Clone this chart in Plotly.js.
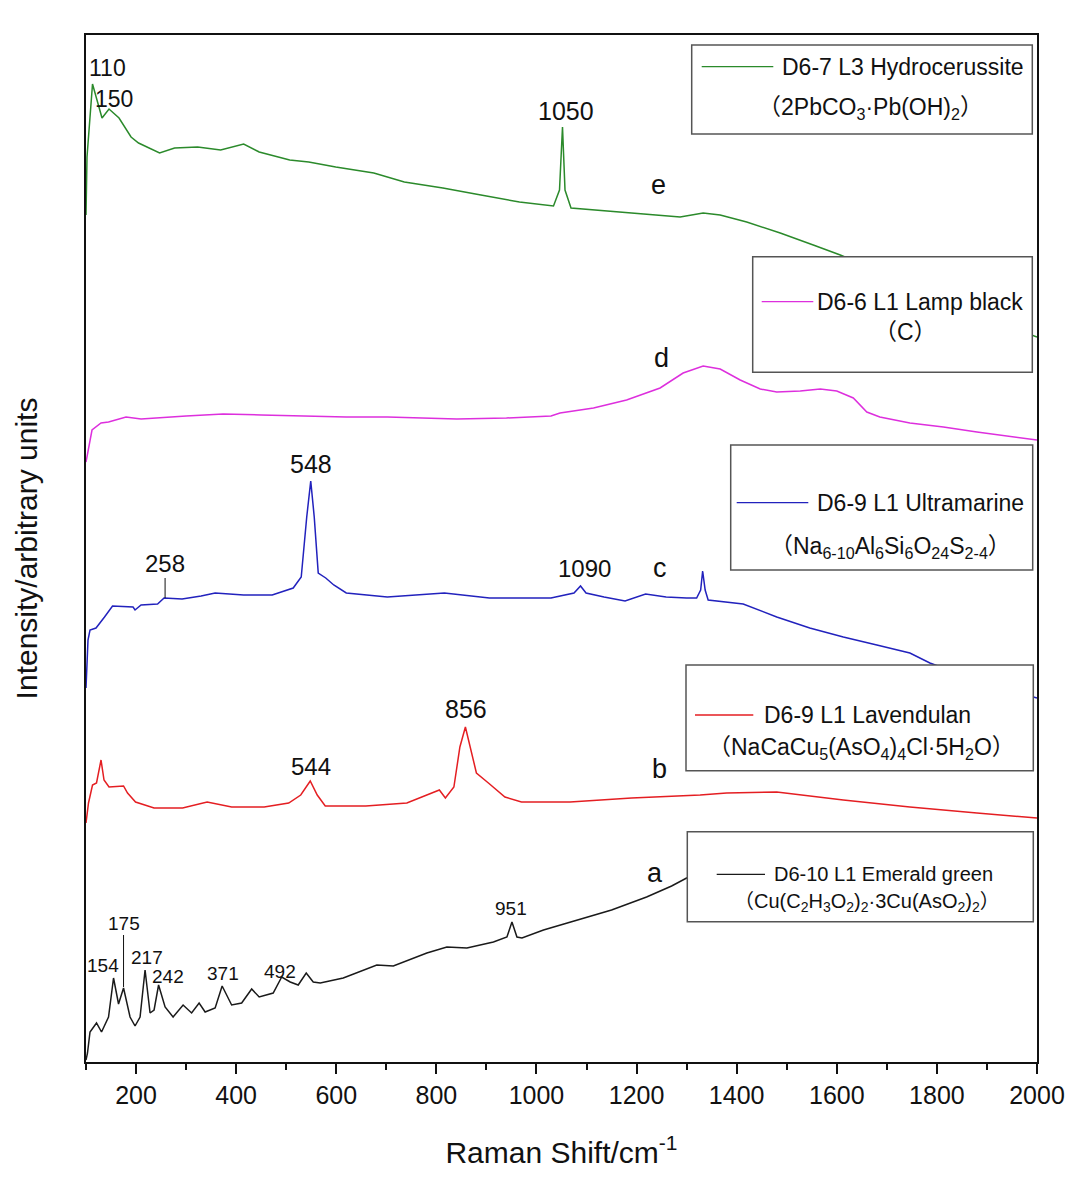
<!DOCTYPE html>
<html>
<head>
<meta charset="utf-8">
<script src="https://cdn.plot.ly/plotly-3.0.1.min.js"></script>
<style>
  body { margin: 0; background: #fff; }
  #chart { width: 1080px; height: 1191px; }
</style>
</head>
<body>
<div id="chart"></div>
<script>
// Raman shift (cm-1) and intensity (arbitrary units)
const shiftE = [100, 102, 113, 132, 146, 166, 190, 205, 247, 277, 323, 369, 415, 446, 507, 545, 599, 675, 736, 813, 889, 966, 1034, 1046, 1052, 1057, 1069, 1119, 1195, 1247, 1287, 1333, 1367, 1420, 1487, 1553, 1607, 1700, 1800, 1900, 2000];
const intE   = [847, 905, 978, 944, 953, 944, 925, 919, 909, 914, 915, 912, 918, 910, 902, 900, 895, 889, 880, 874, 867, 860, 856, 872, 935, 872, 854, 852, 849, 847, 845, 849, 847, 840, 829, 817, 807, 787, 764, 744, 725];

const shiftD = [100, 104, 112, 130, 145, 180, 210, 300, 374, 450, 538, 620, 702, 780, 841, 940, 1029, 1047, 1114, 1180, 1247, 1293, 1333, 1367, 1407, 1447, 1480, 1527, 1567, 1600, 1633, 1660, 1686, 1746, 1813, 1880, 1946, 2000];
const intD   = [600, 612, 632, 639, 640, 645, 643, 646, 648, 647, 646, 645, 645, 644, 643, 644, 646, 649, 654, 662, 674, 689, 696, 693, 682, 673, 670, 671, 673, 671, 664, 650, 645, 639, 635, 630, 626, 622];

const shiftC = [100, 104, 108, 120, 137, 153, 194, 198, 210, 243, 256, 292, 330, 358, 415, 472, 514, 530, 541, 549, 556, 564, 579, 595, 620, 702, 816, 906, 1029, 1075, 1088, 1099, 1135, 1177, 1218, 1259, 1300, 1320, 1328, 1332, 1337, 1343, 1413, 1480, 1546, 1613, 1680, 1746, 1786, 1850, 1925, 2000];
const intC   = [374, 422, 432, 434, 445, 456, 455, 452, 457, 458, 464, 463, 466, 469, 467, 467, 474, 485, 545, 581, 545, 489, 484, 477, 469, 465, 469, 464, 464, 469, 476, 469, 465, 461, 468, 465, 464, 464, 472, 491, 472, 462, 458, 445, 434, 425, 417, 409, 399, 387, 375, 364];

const shiftB = [100, 105, 113, 121, 130, 136, 146, 175, 183, 199, 236, 293, 342, 391, 456, 505, 529, 548, 562, 578, 659, 741, 806, 818, 835, 847, 858, 868, 880, 904, 937, 970, 1067, 1190, 1247, 1327, 1380, 1480, 1613, 1746, 1880, 2000];
const intB   = [239, 259, 277, 279, 302, 282, 275, 276, 269, 260, 254, 254, 260, 255, 255, 259, 267, 281, 267, 256, 256, 259, 272, 264, 275, 315, 335, 315, 289, 279, 265, 260, 260, 264, 265, 267, 269, 270, 262, 255, 249, 244];

const shiftA = [100, 103, 108, 121, 131, 145, 155, 165, 175, 188, 198, 208, 218, 228, 236, 245, 258, 274, 294, 311, 326, 338, 358, 372, 391, 411, 431, 446, 474, 491, 508, 524, 540, 554, 568, 614, 681, 714, 781, 821, 861, 914, 941, 951, 961, 971, 1014, 1061, 1087, 1150, 1220, 1270, 1300, 1340];
const intA   = [2, 9, 30, 39, 30, 45, 84, 58, 74, 45, 36, 45, 92, 49, 52, 77, 55, 45, 57, 49, 59, 50, 54, 76, 57, 59, 73, 65, 69, 85, 80, 77, 89, 80, 79, 84, 97, 96, 109, 115, 114, 120, 125, 140, 125, 124, 132, 139, 143, 152, 165, 176, 184, 190];

const xTicks = [200, 400, 600, 800, 1000, 1200, 1400, 1600, 1800, 2000];

// plot area in page pixels, used to place the hand drawn legend boxes
const L = 86, R = 1037, T = 35, B = 1062;
const PX = p => (p - L) / (R - L);
const PY = p => (B - p) / (B - T);

const FONT = 'Liberation Sans, Arial, Noto Sans CJK SC, sans-serif';

const series = [
  { x: shiftE, y: intE, color: '#2b8a2b' },
  { x: shiftD, y: intD, color: '#dd2fdd' },
  { x: shiftC, y: intC, color: '#2222bd' },
  { x: shiftB, y: intB, color: '#e41e22' },
  { x: shiftA, y: intA, color: '#1a1a1a' }
];

const traces = series.map(s => ({
  x: s.x, y: s.y, type: 'scatter', mode: 'lines',
  line: { color: s.color, width: 1.5 },
  showlegend: false, hoverinfo: 'skip'
}));

// legend boxes: [left, top, right, bottom], line [x0, x1, y], label pos, formula pos
const boxes = [
  { b: [691.7, 45, 1032.3, 134], ln: [701.7, 773.3, 66.7], t: [780, 67], f: [870, 108], size: 23, color: '#2b8a2b',
    label: 'D6-7 L3 Hydrocerussite', formula: '（2PbCO<sub>3</sub>·Pb(OH)<sub>2</sub>）' },
  { b: [752.7, 256.7, 1032.3, 372.3], ln: [761.7, 813.3, 301.7], t: [815, 302], f: [905, 332], size: 23, color: '#dd2fdd',
    label: 'D6-6 L1 Lamp black', formula: '（C）' },
  { b: [730.7, 445, 1032.7, 570], ln: [736.7, 808.3, 502.7], t: [815, 503], f: [890, 547], size: 23, color: '#2222bd',
    label: 'D6-9 L1 Ultramarine', formula: '（Na<sub>6-10</sub>Al<sub>6</sub>Si<sub>6</sub>O<sub>24</sub>S<sub>2-4</sub>）' },
  { b: [686, 665, 1033.3, 770.7], ln: [695, 753.3, 715], t: [761.7, 715], f: [861.7, 748], size: 23, color: '#e41e22',
    label: 'D6-9 L1 Lavendulan', formula: '（NaCaCu<sub>5</sub>(AsO<sub>4</sub>)<sub>4</sub>Cl·5H<sub>2</sub>O）' },
  { b: [687.3, 831.7, 1033.3, 921.7], ln: [716.7, 765, 874.3], t: [771.7, 874], f: [866.7, 902], size: 20, color: '#1a1a1a',
    label: 'D6-10 L1 Emerald green', formula: '（Cu(C<sub>2</sub>H<sub>3</sub>O<sub>2</sub>)<sub>2</sub>·3Cu(AsO<sub>2</sub>)<sub>2</sub>）' }
];

const shapes = [];
const annotations = [];
boxes.forEach(bx => {
  shapes.push({ type: 'rect', xref: 'paper', yref: 'paper', layer: 'above',
    x0: PX(bx.b[0]), y0: PY(bx.b[1]), x1: PX(bx.b[2]), y1: PY(bx.b[3]),
    fillcolor: '#ffffff', line: { color: '#555', width: 1.5 } });
  shapes.push({ type: 'line', xref: 'paper', yref: 'paper', layer: 'above',
    x0: PX(bx.ln[0]), x1: PX(bx.ln[1]), y0: PY(bx.ln[2]), y1: PY(bx.ln[2]),
    line: { color: bx.color, width: 1.3 } });
  annotations.push({ xref: 'paper', yref: 'paper', x: PX(bx.t[0]), y: PY(bx.t[1]),
    xanchor: 'left', yanchor: 'middle', showarrow: false, text: bx.label,
    font: { family: FONT, size: bx.size, color: '#111' } });
  annotations.push({ xref: 'paper', yref: 'paper', x: PX(bx.f[0]), y: PY(bx.f[1]),
    xanchor: 'center', yanchor: 'middle', showarrow: false, text: bx.formula,
    font: { family: FONT, size: bx.size, color: '#111' } });
});

// peak labels: [text, shift, intensity, font size]
const peakLabels = [
  ['110', 142, 994, 23], ['150', 156, 963, 23], ['1050', 1059, 951, 25], ['e', 1243, 877, 27],
  ['d', 1249, 704, 27], ['548', 550, 598, 25], ['1090', 1095, 494, 24], ['c', 1247, 494, 27],
  ['856', 859, 353, 25], ['544', 550, 296, 24], ['b', 1245, 293, 27], ['a', 1237, 189, 27],
  ['951', 949, 154, 19], ['154', 134, 97, 19], ['217', 222, 105, 19], ['242', 264, 86, 19],
  ['371', 374, 89, 19], ['492', 488, 91, 19]
];
peakLabels.forEach(p => annotations.push({
  xref: 'x', yref: 'y', x: p[1], y: p[2], text: p[0], showarrow: false,
  xanchor: 'center', yanchor: 'middle', font: { family: FONT, size: p[3], color: '#111' }
}));

// labels with a leader line down to the peak
annotations.push({ xref: 'x', yref: 'y', x: 258, y: 464, text: '258', showarrow: true,
  arrowhead: 0, arrowwidth: 1, arrowcolor: '#111', ax: 0, ay: -35,
  font: { family: FONT, size: 24, color: '#111' } });
annotations.push({ xref: 'x', yref: 'y', x: 175, y: 75, text: '175', showarrow: true,
  arrowhead: 0, arrowwidth: 1, arrowcolor: '#111', ax: 0, ay: -64,
  font: { family: FONT, size: 19, color: '#111' } });

const layout = {
  width: 1080, height: 1191,
  margin: { l: L, r: 1080 - R, t: T, b: 1191 - B },
  paper_bgcolor: '#fff', plot_bgcolor: '#fff',
  font: { family: FONT, color: '#111' },
  showlegend: false,
  xaxis: {
    range: [100, 2000], tickvals: xTicks, ticks: 'outside', ticklen: 10, tickwidth: 2, tickcolor: '#111',
    minor: { dtick: 100, ticks: 'outside', ticklen: 6, tickwidth: 2, tickcolor: '#111' },
    showline: true, linecolor: '#111', linewidth: 2, mirror: true,
    showgrid: false, zeroline: false,
    tickfont: { family: FONT, size: 25, color: '#111' },
    title: { text: 'Raman Shift/cm<sup>-1</sup>', font: { family: FONT, size: 30, color: '#111' }, standoff: 34 }
  },
  yaxis: {
    range: [0, B - T], showticklabels: false, ticks: '',
    showline: true, linecolor: '#111', linewidth: 2, mirror: true,
    showgrid: false, zeroline: false,
    title: { text: 'Intensity/arbitrary units', font: { family: FONT, size: 30, color: '#111' }, standoff: 38 }
  },
  shapes: shapes,
  annotations: annotations
};

Plotly.newPlot('chart', traces, layout, { staticPlot: true });
</script>
</body>
</html>
